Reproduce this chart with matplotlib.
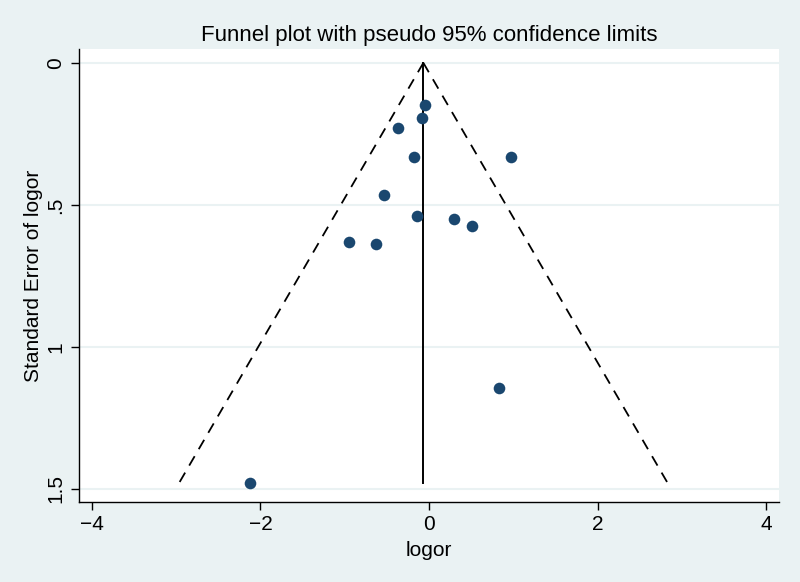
import numpy as np
import matplotlib.pyplot as plt

# study estimates
logor = [-0.044, -0.087, -0.372, -0.178, 0.973, -0.534, -0.146, 0.297, 0.510,
         -0.950, -0.629, 0.835, -2.121]
se_logor = [0.150, 0.193, 0.228, 0.332, 0.333, 0.466, 0.539, 0.550, 0.574,
            0.630, 0.638, 1.144, 1.478]
pooled = -0.067

xticks = [-4, -2, 0, 2, 4]
xticklabels = ['\u22124', '\u22122', '0', '2', '4']
yticks = [0, 0.5, 1, 1.5]
yticklabels = ['0', '.5', '1', '1.5']

plt.rcParams['font.family'] = ['Liberation Sans', 'DejaVu Sans']

bg = '#eaf2f3'
fig = plt.figure(figsize=(8, 5.82), dpi=100, facecolor=bg)
ax = fig.add_axes([0.09875, 0.1375, 0.875, 0.7784])
ax.set_facecolor('white')

# pseudo 95% limits
se_max = max(se_logor)
se_line = np.array([0, se_max])
ax.plot(pooled - 1.96 * se_line, se_line, color='black', lw=1.3, ls=(0, (6, 4.5)))
ax.plot(pooled + 1.96 * se_line, se_line, color='black', lw=1.3, ls=(0, (6, 4.5)))
ax.plot([pooled, pooled], se_line, color='black', lw=1.4)

ax.scatter(logor, se_logor, s=70, color='#1a476f', zorder=3, linewidths=0)

ax.set_xlim(-4.154, 4.154)
ax.set_ylim(1.546, -0.049)
ax.set_xticks(xticks)
ax.set_xticklabels(xticklabels)
ax.set_yticks(yticks)
ax.set_yticklabels(yticklabels, rotation=90, va='center')
ax.yaxis.grid(True, color=bg, lw=1.5)
ax.set_axisbelow(True)
ax.tick_params(labelsize=15, length=6, width=1, direction='out')
ax.tick_params(axis='y', pad=4)

for s in ['top', 'right']:
    ax.spines[s].set_visible(False)
for s in ['left', 'bottom']:
    ax.spines[s].set_linewidth(1)

ax.set_xlabel('logor', fontsize=15, labelpad=5)
ax.set_ylabel('Standard Error of logor', fontsize=15, labelpad=2)
ax.set_title('Funnel plot with pseudo 95% confidence limits', fontsize=16, pad=6)

plt.savefig('out.png', dpi=100, facecolor=bg)
